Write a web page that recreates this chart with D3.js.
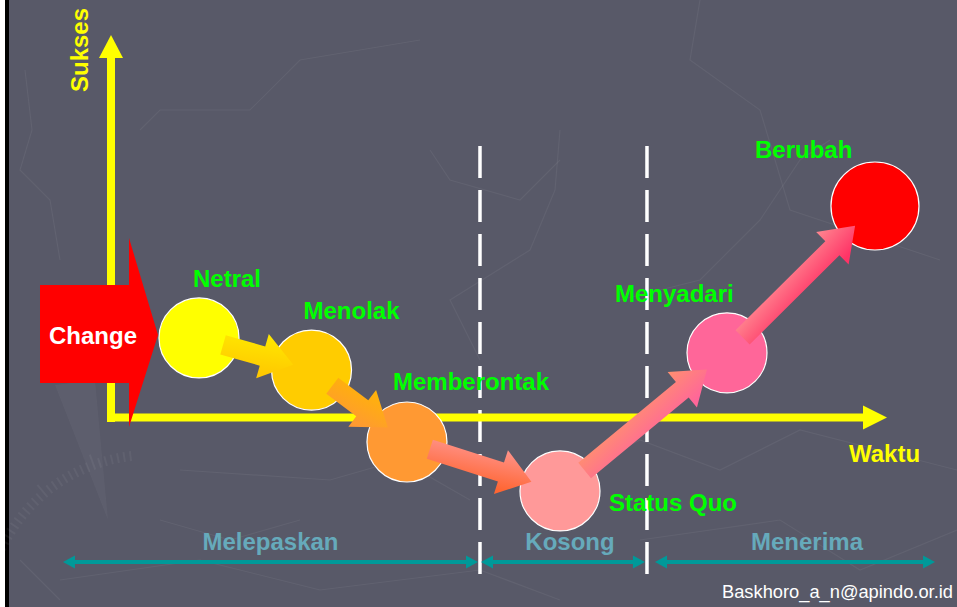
<!DOCTYPE html>
<html><head><meta charset="utf-8">
<script src="https://cdn.jsdelivr.net/npm/d3@7"></script>
<style>html,body{margin:0;padding:0;background:#fff;overflow:hidden}svg{display:block}</style>
</head><body>
<svg id="c" width="957" height="607"></svg>
<script>
// ---- data ----
const stageNames = ["Netral", "Menolak", "Memberontak", "Status Quo", "Menyadari", "Berubah"];
const stageTime = [1.134, 2.584, 3.814, 5.786, 7.938, 9.845];
const stageSuccess = [2.08, 1.24, -0.64, -1.92, 1.69, 5.53];
const phaseNames = ["Melepaskan", "Kosong", "Menerima"];
const phaseStart = [-0.619, 4.768, 7.010];
const phaseEnd = [4.729, 6.881, 10.619];
const phaseBoundaries = [4.755, 6.907];
const axisTitles = ["Waktu", "Sukses"];
const triggerLabel = "Change";
const footerText = "Baskhoro_a_n@apindo.or.id";

// ---- styles ----
const stageColors = ["#ffff00", "#ffcc00", "#ff9933", "#ff9999", "#ff6699", "#ff0000"];
const arrowGrad = [["#ffee00", "#ffc800"], ["#ffb800", "#ff9933"], ["#ff9c9c", "#ff6633"], ["#ff9966", "#ff6699"], ["#ff9a9a", "#ff3366"]];
const arrowTail = [25, 26, 24, 32, 22];
const arrowTip = [19, 24, 30, 26, 28];
const labelOffset = [[-6, -51], [-8, -51], [-14, -52], [49, 20], [-112, -51], [-120, -48]];
const phaseLabelShift = [0, 7, 12];
const bg = "#585968";

const svg = d3.select("#c");
const W = 957, H = 607;
const x = d3.scaleLinear().domain([0, 10]).range([111, 887]);
const y = d3.scaleLinear().domain([0, 10]).range([417.5, 35]);
const F = "'Liberation Sans', Arial, sans-serif";
const FS = 24;

// background
svg.append("rect").attr("width", W).attr("height", H).attr("fill", "#fff");
svg.append("rect").attr("x", 5).attr("width", W - 5).attr("height", H).attr("fill", "#000");
svg.append("rect").attr("x", 9).attr("width", W - 9).attr("height", H).attr("fill", bg);

// faint texture
const tex = svg.append("g").attr("fill", "none").attr("stroke", "rgba(255,255,255,0.055)").attr("stroke-width", 1.2);
const texLines = [
  [[25,70],[32,130],[20,170],[50,200],[60,260]],
  [[140,130],[160,110],[250,110],[300,60],[420,40]],
  [[560,130],[555,190],[530,250],[450,300],[480,360]],
  [[620,300],[700,280],[760,220],[800,160],[830,140]],
  [[700,0],[690,60],[760,110],[790,210],[940,260]],
  [[600,460],[640,440],[720,470],[800,430],[957,470]],
  [[60,580],[200,560],[320,590],[480,570],[560,600]],
  [[640,540],[780,520],[860,570],[957,530]],
  [[180,470],[330,480],[400,460],[470,500]],
  [[430,150],[450,180],[520,200],[560,160]],
  [[20,560],[60,600]],
  [[160,520],[230,540],[300,520]]
];
tex.selectAll("path").data(texLines).join("path").attr("d", d3.line());
const comp = svg.append("g").attr("stroke", "rgba(255,255,255,0.05)").attr("stroke-width", 2);
d3.range(-165, -95, 2.2).forEach(a => {
  const r = a * Math.PI / 180, cx = 150, cy = 620, R1 = 160, R2 = (Math.round(a) % 10 === 0) ? 176 : 170;
  comp.append("line").attr("x1", cx + R1 * Math.cos(r)).attr("y1", cy + R1 * Math.sin(r))
    .attr("x2", cx + R2 * Math.cos(r)).attr("y2", cy + R2 * Math.sin(r));
});
svg.append("path").attr("d", "M55,385 L95,380 L108,520 Z").attr("fill", "rgba(255,255,255,0.035)");

// phase boundaries (dashed)
svg.append("g").selectAll("line").data(phaseBoundaries).join("line")
  .attr("x1", d => x(d)).attr("x2", d => x(d))
  .attr("y1", 146).attr("y2", 574)
  .attr("stroke", "#fff").attr("stroke-width", 3.5)
  .attr("stroke-dasharray", "32 12");

// axes
const axisCol = "#ffff00";
const x0 = x(0), y0 = y(0);
svg.append("line").attr("x1", x0).attr("x2", x0).attr("y1", y0 + 4.5).attr("y2", y(10) + 22)
  .attr("stroke", axisCol).attr("stroke-width", 8);
svg.append("path").attr("d", `M${x0 - 12},${y(10) + 23} L${x0 + 12},${y(10) + 23} L${x0},${y(10)} Z`).attr("fill", axisCol);
svg.append("line").attr("x1", x0 - 4).attr("x2", x(10) - 22).attr("y1", y0).attr("y2", y0)
  .attr("stroke", axisCol).attr("stroke-width", 8);
svg.append("path").attr("d", `M${x(10) - 24},${y0 - 12} L${x(10) - 24},${y0 + 12} L${x(10)},${y0} Z`).attr("fill", axisCol);

svg.append("text").text(axisTitles[1]).attr("transform", `translate(88,50) rotate(-90)`)
  .attr("text-anchor", "middle").attr("font-family", F).attr("font-weight", "bold")
  .attr("font-size", FS).attr("fill", axisCol);
svg.append("text").text(axisTitles[0]).attr("x", 849).attr("y", 462)
  .attr("font-family", F).attr("font-weight", "bold").attr("font-size", FS).attr("fill", axisCol);

// trigger arrow "Change"
svg.append("path").attr("d", "M40,285 L129,285 L129,238 L158,335 L129,427 L129,383 L40,383 Z").attr("fill", "#ff0000");
svg.append("text").text(triggerLabel).attr("x", 93).attr("y", 344).attr("text-anchor", "middle")
  .attr("font-family", F).attr("font-weight", "bold").attr("font-size", FS).attr("fill", "#fff");

// stages
const stages = stageNames.map((n, i) => ({ name: n, cx: x(stageTime[i]), cy: y(stageSuccess[i]), i }));
const last = stages.length - 1;
svg.append("g").selectAll("circle").data(stages).join("circle")
  .attr("cx", d => d.cx).attr("cy", d => d.cy).attr("r", d => d.i === last ? 44 : 40)
  .attr("fill", d => stageColors[d.i]).attr("stroke", "#fff").attr("stroke-width", 1.2);

// gradient arrows between stages
const defs = svg.append("defs");
const ag = svg.append("g");
d3.pairs(stages).forEach(([a, b], k) => {
  const dx = b.cx - a.cx, dy = b.cy - a.cy, len = Math.hypot(dx, dy);
  const ang = Math.atan2(dy, dx) * 180 / Math.PI;
  const s0 = arrowTail[k], s1 = arrowTip[k];
  const L = len - s0 - s1;
  const sx = a.cx + dx / len * s0, sy = a.cy + dy / len * s0;
  const id = "g" + k;
  const gr = defs.append("linearGradient").attr("id", id).attr("x1", 0).attr("y1", 0).attr("x2", 0.25).attr("y2", 1);
  gr.append("stop").attr("offset", "0%").attr("stop-color", arrowGrad[k][0]);
  gr.append("stop").attr("offset", "100%").attr("stop-color", arrowGrad[k][1]);
  const hl = 32, hw = 23, sw = 10;
  ag.append("path")
    .attr("d", `M0,${-sw} L${L - hl},${-sw} L${L - hl},${-hw} L${L},0 L${L - hl},${hw} L${L - hl},${sw} L0,${sw} Z`)
    .attr("transform", `translate(${sx},${sy}) rotate(${ang})`)
    .attr("fill", `url(#${id})`);
});

// stage labels
svg.append("g").selectAll("text").data(stages).join("text")
  .attr("x", d => d.cx + labelOffset[d.i][0]).attr("y", d => d.cy + labelOffset[d.i][1])
  .text(d => d.name)
  .attr("font-family", F).attr("font-weight", "bold").attr("font-size", FS).attr("fill", "#00ff00");

// phase double arrows
const teal = "#009999";
const pg = svg.append("g");
const py = 562;
phaseNames.forEach((n, i) => {
  const xa = x(phaseStart[i]), xb = x(phaseEnd[i]);
  pg.append("line").attr("x1", xa + 8).attr("x2", xb - 8).attr("y1", py).attr("y2", py)
    .attr("stroke", teal).attr("stroke-width", 4);
  pg.append("path").attr("d", `M${xa},${py} L${xa + 12},${py - 6.5} L${xa + 12},${py + 6.5} Z`).attr("fill", teal);
  pg.append("path").attr("d", `M${xb},${py} L${xb - 12},${py - 6.5} L${xb - 12},${py + 6.5} Z`).attr("fill", teal);
  pg.append("text").text(n).attr("x", (xa + xb) / 2 + phaseLabelShift[i]).attr("y", 550)
    .attr("text-anchor", "middle").attr("font-family", F).attr("font-weight", "bold")
    .attr("font-size", FS).attr("fill", "#66aabb");
});

// footer
svg.append("text").text(footerText).attr("x", 953).attr("y", 598).attr("text-anchor", "end")
  .attr("font-family", F).attr("font-size", 18.3).attr("fill", "#fff");
</script>
</body></html>
